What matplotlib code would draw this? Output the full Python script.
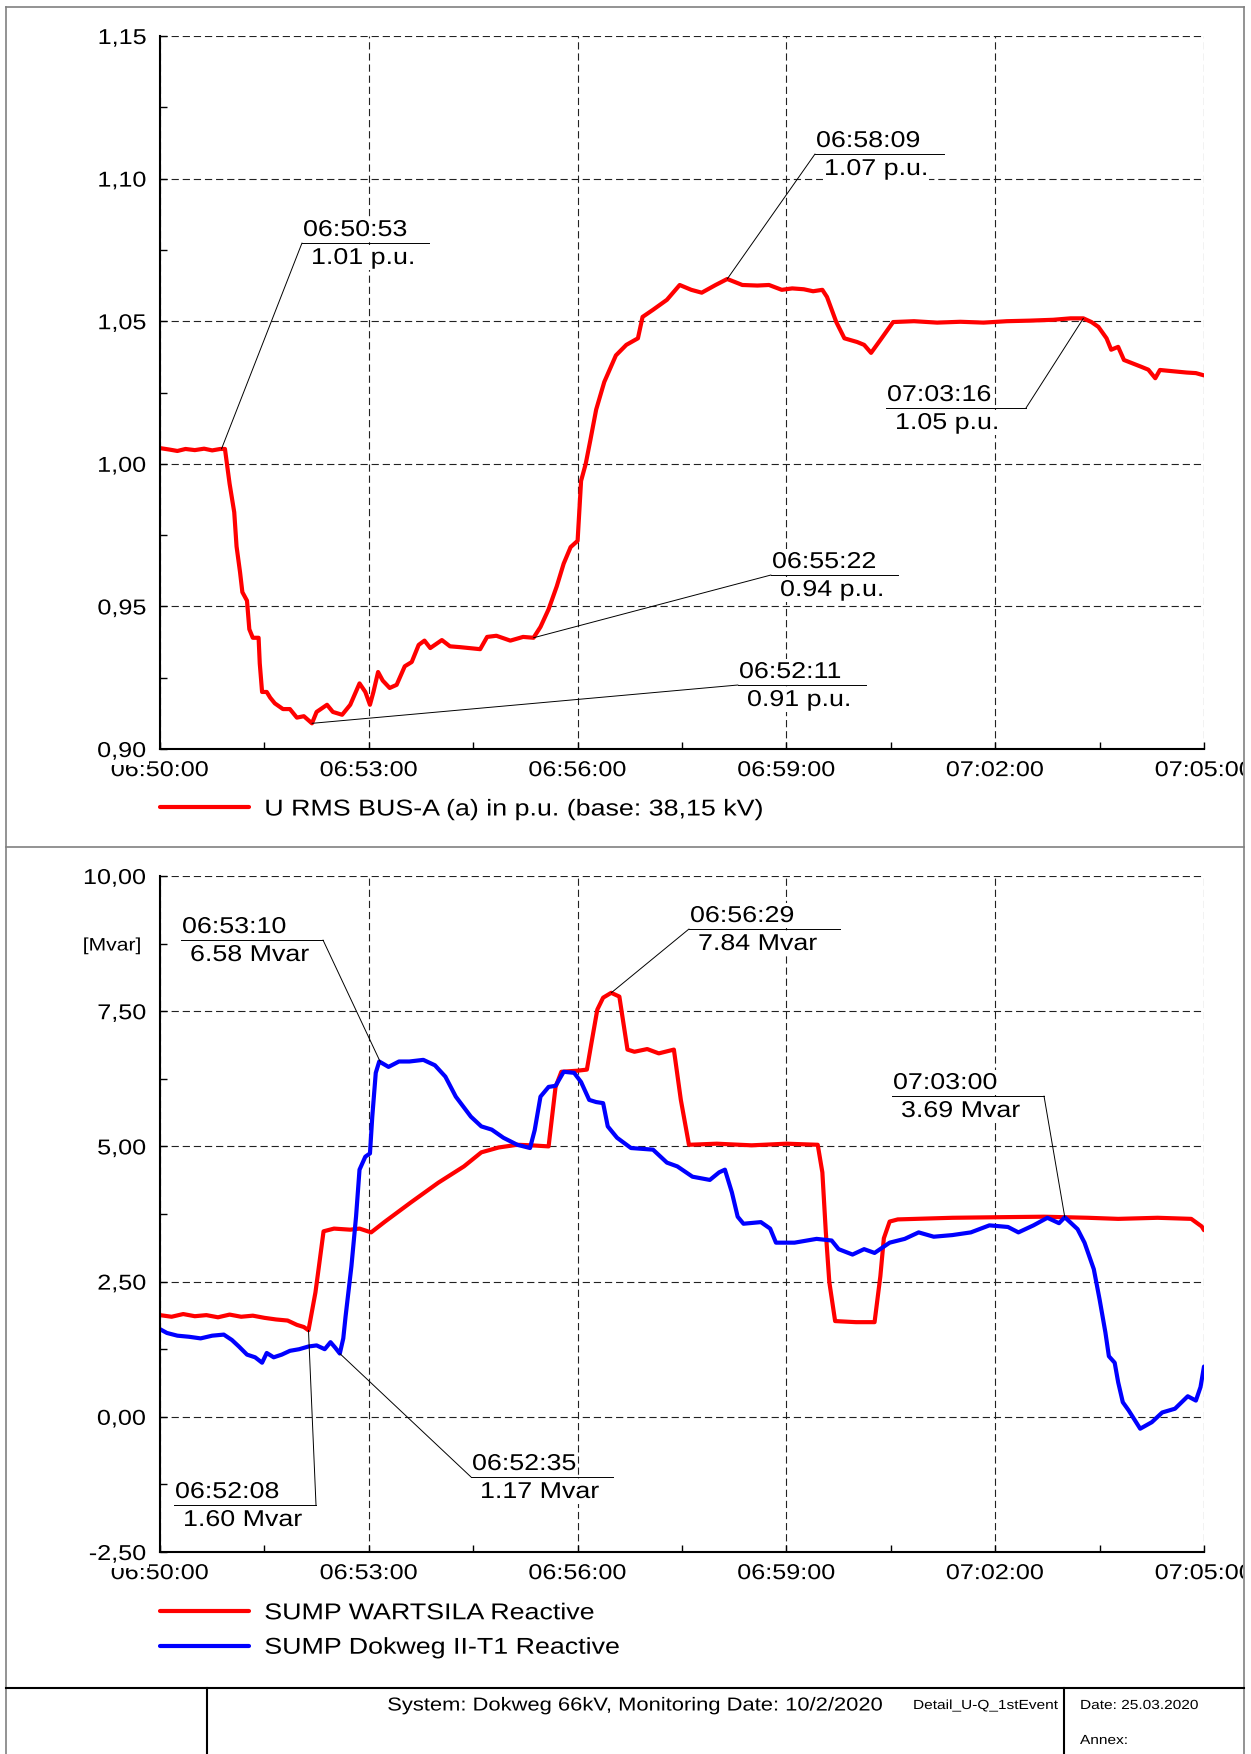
import numpy as np
import matplotlib
matplotlib.use("Agg")
import matplotlib.pyplot as plt
from matplotlib.lines import Line2D
from matplotlib.ticker import MultipleLocator, FuncFormatter
from matplotlib.transforms import Bbox, TransformedBbox, Affine2D
from matplotlib.patheffects import AbstractPathEffect

plt.rcParams['font.family'] = ['Liberation Sans', 'DejaVu Sans']

# ---- data (seconds after 06:50:00) ----
u_t = [0, 8, 15, 22, 30, 38, 45, 52, 56, 60, 64, 66, 69, 71, 75, 77, 80, 85, 86, 88,
       92, 95, 99, 106, 112, 118, 124, 131, 135, 144, 149, 157, 164, 172, 177, 181, 184,
       188, 192, 198, 204, 211, 217, 223, 228, 233, 243, 250, 259, 276, 282, 290, 302,
       313, 322, 328, 335, 342, 348, 354, 360, 363, 367, 371, 376, 383, 393, 402, 412,
       416, 425, 437, 448, 458, 467, 479, 489, 502, 515, 525, 536, 545, 555, 563, 571,
       575, 583, 590, 601, 607, 613, 621, 632, 650, 670, 690, 710, 730, 750, 770, 785,
       796, 803, 809, 816, 820, 826, 831, 846, 852, 858, 862, 872, 885, 893, 900]
u_pu = [1.0055, 1.005, 1.0045, 1.0052, 1.0048, 1.0053, 1.0047, 1.0052, 1.0052, 0.993,
        0.983, 0.971, 0.962, 0.955, 0.952, 0.942, 0.939, 0.939, 0.930, 0.920,
        0.920, 0.918, 0.916, 0.914, 0.914, 0.911, 0.9115, 0.909, 0.913, 0.9155, 0.913,
        0.912, 0.9155, 0.923, 0.920, 0.9155, 0.920, 0.927, 0.924, 0.9214, 0.9225,
        0.929, 0.9305, 0.9365, 0.938, 0.9354, 0.9382, 0.936, 0.9357, 0.935, 0.9393,
        0.9397, 0.938, 0.9393, 0.939, 0.9428, 0.949, 0.957, 0.965, 0.9708, 0.973,
        0.994, 1.000, 1.0083, 1.019, 1.0287, 1.038, 1.0417, 1.044, 1.0515, 1.054,
        1.0575, 1.0627, 1.0610, 1.060, 1.0627, 1.0648, 1.0627, 1.0625, 1.0627, 1.061,
        1.0615, 1.0612, 1.0605, 1.061, 1.0585, 1.0497, 1.044, 1.0427, 1.0417, 1.0389,
        1.0434, 1.0497, 1.050, 1.0495, 1.0498, 1.0495, 1.050, 1.0502, 1.0505, 1.051,
        1.051, 1.0497, 1.048, 1.044, 1.040, 1.041, 1.0364, 1.034, 1.033, 1.030, 1.0329,
        1.0325, 1.032, 1.0318, 1.031]

q_t_red = [0, 10, 20, 30, 40, 50, 60, 70, 80, 90, 100, 110, 118, 124, 128, 131, 134,
           137, 141, 150, 164, 172, 182, 194, 216, 240, 262, 277, 292, 308, 320, 335,
           341, 346, 360, 368, 372, 377, 382, 389, 396, 403, 409, 420, 430, 443, 449,
           456, 480, 510, 540, 567, 571, 574, 577, 582, 600, 616, 621, 624, 629, 636,
           683, 720, 762, 800, 826, 860, 889, 898, 900]
q_red = [1.88, 1.85, 1.90, 1.86, 1.88, 1.84, 1.89, 1.85, 1.87, 1.83, 1.80, 1.78, 1.70,
         1.66, 1.60, 1.95, 2.30, 2.78, 3.43, 3.48, 3.46, 3.48, 3.41, 3.61, 3.96, 4.33,
         4.63, 4.89, 4.98, 5.03, 5.02, 5.00, 6.10, 6.38, 6.40, 6.42, 6.92, 7.53, 7.75,
         7.84, 7.77, 6.79, 6.75, 6.80, 6.72, 6.79, 5.86, 5.03, 5.05, 5.02, 5.05, 5.03,
         4.52, 3.41, 2.49, 1.77, 1.75, 1.75, 2.60, 3.30, 3.61, 3.65, 3.68, 3.69, 3.70,
         3.68, 3.66, 3.68, 3.66, 3.52, 3.45]

q_t_blue = [0, 6, 15, 25, 35, 45, 55, 62, 68, 75, 82, 88, 92, 98, 105, 112, 120, 128,
            135, 142, 147, 151, 155, 158, 160, 165, 169, 172, 177, 181, 183, 186, 189,
            197, 206, 215, 227, 237, 246, 255, 268, 277, 286, 296, 308, 319, 323, 328,
            335, 341, 348, 357, 363, 370, 376, 382, 386, 394, 406, 425, 437, 446, 459,
            474, 482, 487, 493, 498, 503, 518, 526, 531, 547, 566, 579, 585, 597, 607,
            616, 629, 642, 654, 667, 683, 699, 715, 731, 740, 753, 765, 775, 780, 791,
            797, 805, 810, 815, 818, 823, 826, 830, 835, 845, 855, 864, 875, 886, 893,
            897, 900]
q_blue = [1.62, 1.55, 1.50, 1.48, 1.45, 1.50, 1.52, 1.42, 1.30, 1.15, 1.10, 1.00, 1.18,
          1.10, 1.15, 1.22, 1.25, 1.30, 1.32, 1.25, 1.38, 1.28, 1.17, 1.45, 1.86, 2.78,
          3.70, 4.57, 4.81, 4.87, 5.55, 6.36, 6.57, 6.47, 6.57, 6.57, 6.60, 6.50, 6.29,
          5.92, 5.55, 5.37, 5.31, 5.16, 5.03, 4.97, 5.30, 5.92, 6.10, 6.12, 6.38, 6.36,
          6.19, 5.86, 5.82, 5.80, 5.37, 5.16, 4.97, 4.94, 4.70, 4.63, 4.44, 4.38, 4.52,
          4.57, 4.15, 3.70, 3.57, 3.60, 3.48, 3.22, 3.22, 3.29, 3.26, 3.10, 3.00, 3.10,
          3.03, 3.22, 3.29, 3.41, 3.33, 3.36, 3.41, 3.54, 3.51, 3.41, 3.54, 3.68, 3.58,
          3.69, 3.47, 3.22, 2.73, 2.17, 1.56, 1.12, 1.00, 0.64, 0.27, 0.12, -0.22, -0.10,
          0.08, 0.15, 0.38, 0.30, 0.55, 0.93]

# callouts: time s, [series], time label, value label, underline x0, x1, y (px), leader end
top_callouts = [
    (53, '06:50:53', '1.01 p.u.', 302, 429, 243, 'l'),
    (489, '06:58:09', '1.07 p.u.', 815, 944, 154, 'l'),
    (796, '07:03:16', '1.05 p.u.', 886, 1026, 408, 'r'),
    (322, '06:55:22', '0.94 p.u.', 771, 898, 575, 'l'),
    (131, '06:52:11', '0.91 p.u.', 738, 866, 685, 'l'),
]
bot_callouts = [
    (190, 'blue', '06:53:10', '6.58 Mvar', 181, 323, 940, 'r'),
    (389, 'red', '06:56:29', '7.84 Mvar', 689, 840, 929, 'l'),
    (780, 'blue', '07:03:00', '3.69 Mvar', 892, 1044, 1096, 'r'),
    (155, 'blue', '06:52:35', '1.17 Mvar', 471, 613, 1477, 'l'),
    (128, 'red', '06:52:08', '1.60 Mvar', 174, 316, 1505, 'r'),
]

W, H = 1251, 1754
SX = 1.17  # the source print is a little wider than tall
fig = plt.figure(figsize=(W / 100, H / 100), dpi=100)


class Stretch(AbstractPathEffect):
    # widen a path horizontally around one of its edges
    def __init__(self, sx=SX, anchor='left'):
        super().__init__()
        self.sx = sx
        self.anchor = anchor

    def draw_path(self, renderer, gc, tpath, affine, rgbFace=None):
        piv = 0.0
        if len(tpath.vertices) and self.anchor != 'left':
            ext = tpath.get_extents()
            piv = {'center': (ext.x0 + ext.x1) / 2, 'right': ext.x1,
                   'x0': ext.x0}[self.anchor]
        tr = Affine2D().translate(-piv, 0).scale(self.sx, 1).translate(piv, 0) + affine
        renderer.draw_path(gc, tpath, tr, rgbFace)


def px(x, y):
    return x / W, 1 - y / H


def hms(s, pos=None):
    s = int(round(s)) + 6 * 3600 + 50 * 60
    return "%02d:%02d:%02d" % (s // 3600, (s // 60) % 60, s % 60)


def comma(v, pos=None):
    return ("%.2f" % v).replace('.', ',')


def ftext(x, y, s, anchor='left', **kw):
    txt = fig.text(*px(x, y), s, ha=anchor, path_effects=[Stretch(SX, anchor)], **kw)
    if txt.get_bbox_patch() is not None:
        txt.get_bbox_patch().set_path_effects([Stretch(SX, 'x0')])
    return txt


def style_axes(ax, ymin, ymax, ymaj):
    ax.set_xlim(0, 900)
    ax.set_ylim(ymin, ymax)
    ax.xaxis.set_major_locator(MultipleLocator(180))
    ax.xaxis.set_minor_locator(MultipleLocator(90))
    ax.yaxis.set_major_locator(MultipleLocator(ymaj))
    ax.yaxis.set_minor_locator(MultipleLocator(ymaj / 2))
    ax.xaxis.set_major_formatter(FuncFormatter(hms))
    ax.yaxis.set_major_formatter(FuncFormatter(comma))
    for s in ['top', 'right']:
        ax.spines[s].set_visible(False)
    for s in ['left', 'bottom']:
        ax.spines[s].set_linewidth(1.5)
        ax.spines[s].set_color('black')
    ax.tick_params(which='both', direction='in', colors='black', width=1)
    ax.tick_params(which='major', length=5, labelsize=15.5)
    ax.tick_params(which='minor', length=5)
    ax.tick_params(axis='y', pad=10)
    ax.tick_params(axis='x', pad=8)
    ax.grid(True, which='major', color='#222222', lw=0.8, linestyle=(0, (6.5, 3.5)))
    ax.patch.set_alpha(0)


def callout(ax, t, v, tlab, vlab, x0, x1, yl, end):
    fx0, fy = px(x0, yl)
    fx1, _ = px(x1, yl)
    fe = fx0 if end == 'l' else fx1
    ax.annotate('', xy=(t, v), xycoords='data', xytext=(fe, fy),
                textcoords='figure fraction',
                arrowprops=dict(arrowstyle='-', color='black', lw=0.7,
                                shrinkA=0, shrinkB=0))
    fig.add_artist(Line2D([fx0, fx1], [fy, fy], color='black', lw=0.7,
                          transform=fig.transFigure))
    ftext(x0 + 1, yl - 2, tlab, va='bottom', fontsize=16.5,
          bbox=dict(fc='white', ec='none', pad=0.5))
    ftext(x0 + 9, yl + 3, vlab, va='top', fontsize=16.5,
          bbox=dict(fc='white', ec='none', pad=0.5))


# ---- top panel ----
ax1 = fig.add_axes([160 / W, 1 - 749 / H, 1044 / W, 713 / H])
style_axes(ax1, 0.90, 1.15, 0.05)
l1, = ax1.plot(u_t, u_pu, color='#ff0000', lw=3, solid_capstyle='round',
               solid_joinstyle='round', label='U RMS BUS-A (a) in p.u. (base: 38,15 kV)')
for t, tl, vl, x0, x1, yl, end in top_callouts:
    callout(ax1, t, np.interp(t, u_t, u_pu), tl, vl, x0, x1, yl, end)
leg1 = ax1.legend(handles=[l1], loc='center left', bbox_to_anchor=px(160, 809),
                  bbox_transform=fig.transFigure, frameon=False, fontsize=16.5,
                  handlelength=3.9, handletextpad=0.65, borderpad=0, borderaxespad=0)

# ---- bottom panel ----
ax2 = fig.add_axes([160 / W, 1 - 1552 / H, 1044 / W, 676 / H])
style_axes(ax2, -2.5, 10.0, 2.5)
l2, = ax2.plot(q_t_red, q_red, color='#ff0000', lw=3, solid_capstyle='round',
               solid_joinstyle='round', label='SUMP WARTSILA Reactive')
l3, = ax2.plot(q_t_blue, q_blue, color='#0000ff', lw=3, solid_capstyle='round',
               solid_joinstyle='round', label='SUMP Dokweg II-T1 Reactive')
series = {'red': (q_t_red, q_red), 'blue': (q_t_blue, q_blue)}
for t, key, tl, vl, x0, x1, yl, end in bot_callouts:
    st, sv = series[key]
    callout(ax2, t, np.interp(t, st, sv), tl, vl, x0, x1, yl, end)
leg2 = ax2.legend(handles=[l2, l3], loc='center left', bbox_to_anchor=px(160, 1630),
                  bbox_transform=fig.transFigure, frameon=False, fontsize=16.5,
                  handlelength=3.9, handletextpad=0.65, borderpad=0, borderaxespad=0,
                  labelspacing=0.5)
for leg in (leg1, leg2):
    for txt in leg.get_texts():
        txt.set_path_effects([Stretch(SX, 'left')])
ftext(141, 946, '[Mvar]', anchor='right', va='center', fontsize=13)

# y tick labels sit on top of the first time label, last time label is cut by the frame
clip = TransformedBbox(Bbox([[0, 0], [1243 / W, 1]]), fig.transFigure)
for ax in (ax1, ax2):
    for lab in ax.get_yticklabels():
        lab.set_bbox(dict(fc='white', ec='none', pad=2))
        lab.set_path_effects([Stretch(SX, 'right')])
    for lab in ax.get_xticklabels():
        lab.set_clip_box(clip)
        lab.set_clip_on(True)
        lab.set_path_effects([Stretch(SX, 'center')])

# ---- page frame and title block ----
gray = '#808080'
frame = [
    ([6, 1244], [7, 7], gray, 1.2),
    ([6, 6], [7, 1754], gray, 1.2),
    ([1244, 1244], [7, 1754], gray, 1.2),
    ([6, 1244], [847, 847], gray, 1.2),
    ([6, 1244], [1688, 1688], 'black', 1.5),
    ([207, 207], [1688, 1754], 'black', 1.5),
    ([1064, 1064], [1688, 1754], 'black', 1.5),
]
for xs, ys, c, lw in frame:
    fig.add_artist(Line2D([x / W for x in xs], [1 - y / H for y in ys], color=c, lw=lw,
                          transform=fig.transFigure))

ftext(635, 1706, 'System: Dokweg 66kV, Monitoring Date: 10/2/2020', anchor='center',
      va='center', fontsize=13.5)
ftext(913, 1706, 'Detail_U-Q_1stEvent', va='center', fontsize=9.5)
ftext(1080, 1706, 'Date: 25.03.2020', va='center', fontsize=9.5)
ftext(1080, 1741, 'Annex:', va='center', fontsize=9.5)

fig.savefig('out.png', dpi=100)
